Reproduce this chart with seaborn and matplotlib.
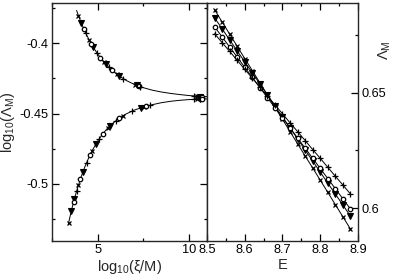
import numpy as np
import seaborn as sns
import matplotlib
matplotlib.use("Agg")
import matplotlib.pyplot as plt
from matplotlib.ticker import MultipleLocator

# Left panel: scaling curves (upper and lower branch)
upper_fit_x = [3.85, 3.90, 4.00, 4.20, 4.40, 4.60, 4.80, 5.00, 5.25, 5.50, 5.75, 6.00,
               6.30, 6.60, 7.00, 7.50, 8.00, 8.50, 9.00, 9.50, 10.0, 10.5, 11.0]
upper_fit_y = [-0.3768, -0.3787, -0.3822, -0.3886, -0.3942, -0.3992, -0.4037, -0.4076,
               -0.4119, -0.4156, -0.4188, -0.4215, -0.4243, -0.4267, -0.4292, -0.4316,
               -0.4334, -0.4347, -0.4357, -0.4365, -0.4372, -0.4377, -0.4380]
lower_fit_x = [3.40, 3.50, 3.60, 3.75, 3.90, 4.10, 4.30, 4.50, 4.75, 5.00, 5.25, 5.50,
               5.80, 6.10, 6.50, 7.00, 7.50, 8.00, 8.50, 9.00, 9.50, 10.0, 10.5, 11.0]
lower_fit_y = [-0.5283, -0.5225, -0.5170, -0.5096, -0.5029, -0.4949, -0.4879, -0.4818,
               -0.4752, -0.4697, -0.4650, -0.4611, -0.4573, -0.4541, -0.4507, -0.4476,
               -0.4454, -0.4437, -0.4423, -0.4413, -0.4406, -0.4401, -0.4398, -0.4396]

# scaled data points, one list per system size
xi_x = [3.95, 4.55, 5.35, 6.05, 7.05, 10.45, 3.41, 3.95, 4.70, 5.55, 6.40, 7.55, 10.45]
lam_x = [-0.3805, -0.3980, -0.4133, -0.4220, -0.4295, -0.4378,
         -0.5277, -0.5010, -0.4765, -0.4604, -0.4515, -0.4452, -0.4397]
xi_v = [4.10, 4.75, 5.45, 6.20, 7.15, 10.60, 3.55, 3.72, 4.20, 4.90, 5.70, 7.40, 10.60]
lam_v = [-0.3855, -0.4026, -0.4150, -0.4234, -0.4300, -0.4380,
         -0.5195, -0.5110, -0.4913, -0.4718, -0.4585, -0.4458, -0.4396]
xi_o = [4.25, 4.65, 5.15, 5.80, 7.25, 10.75, 3.68, 4.05, 4.60, 5.30, 6.20, 7.65, 10.75]
lam_o = [-0.3900, -0.4004, -0.4102, -0.4193, -0.4305, -0.4381,
         -0.5128, -0.4968, -0.4793, -0.4643, -0.4532, -0.4449, -0.4395]
xi_p = [4.35, 4.95, 5.60, 6.40, 7.35, 10.30, 3.85, 4.40, 5.10, 6.00, 6.90, 7.85, 10.30]
lam_p = [-0.3928, -0.4067, -0.4169, -0.4252, -0.4309, -0.4376,
         -0.5052, -0.4848, -0.4678, -0.4551, -0.4482, -0.4442, -0.4399]

# Right panel: Lambda_M vs energy
energy = [8.52, 8.54, 8.56, 8.58, 8.60, 8.62, 8.64, 8.66, 8.68, 8.70,
          8.72, 8.74, 8.76, 8.78, 8.80, 8.82, 8.84, 8.86, 8.88]
lam_E_x = [0.6861, 0.6808, 0.6755, 0.6702, 0.6649, 0.6597, 0.6544, 0.6491, 0.6438, 0.6385,
           0.6332, 0.6279, 0.6226, 0.6174, 0.6121, 0.6068, 0.6015, 0.5962, 0.5909]
lam_E_v = [0.6826, 0.6778, 0.6730, 0.6682, 0.6635, 0.6587, 0.6539, 0.6491, 0.6443, 0.6395,
           0.6348, 0.6300, 0.6252, 0.6204, 0.6156, 0.6108, 0.6061, 0.6013, 0.5965]
lam_E_o = [0.6787, 0.6743, 0.6699, 0.6655, 0.6611, 0.6567, 0.6523, 0.6479, 0.6435, 0.6392,
           0.6348, 0.6304, 0.6260, 0.6216, 0.6172, 0.6128, 0.6084, 0.6040, 0.5996]
lam_E_p = [0.6757, 0.6718, 0.6680, 0.6641, 0.6602, 0.6564, 0.6525, 0.6486, 0.6448, 0.6409,
           0.6370, 0.6332, 0.6293, 0.6254, 0.6216, 0.6177, 0.6138, 0.6100, 0.6061]

sns.set_style("ticks")
plt.rcParams["font.family"] = ["Liberation Sans", "DejaVu Sans"]
plt.rcParams["mathtext.fontset"] = "custom"
plt.rcParams["mathtext.rm"] = "Liberation Sans"
plt.rcParams["mathtext.it"] = "Liberation Sans:italic"

LABEL_SIZE = 10.5
TICK_SIZE = 9.2

styles = {
    "x": dict(marker="x", ms=3.0, mfc="k", mec="k", mew=0.9),
    "v": dict(marker="v", ms=3.8, mfc="k", mec="k", mew=0.8),
    "o": dict(marker="o", ms=3.2, mfc="white", mec="k", mew=0.9),
    "+": dict(marker="+", ms=3.8, mfc="k", mec="k", mew=0.9),
}

fig = plt.figure(figsize=(3.95, 2.75), dpi=100)
ax1 = fig.add_axes([52 / 395, 34 / 275, 155 / 395, 238 / 275])
ax2 = fig.add_axes([207 / 395, 34 / 275, 151 / 395, 238 / 275])

# left panel
sns.lineplot(x=upper_fit_x, y=upper_fit_y, ax=ax1, color="k", lw=0.7)
sns.lineplot(x=lower_fit_x, y=lower_fit_y, ax=ax1, color="k", lw=0.7)
for key, xs, ys in [("x", xi_x, lam_x), ("v", xi_v, lam_v), ("o", xi_o, lam_o), ("+", xi_p, lam_p)]:
    ax1.plot(xs, ys, ls="none", **styles[key])

ax1.set_xlim(2.5, 11)
ax1.set_ylim(-0.5405, -0.3715)
ax1.xaxis.set_major_locator(MultipleLocator(5))
ax1.xaxis.set_minor_locator(MultipleLocator(2.5))
ax1.yaxis.set_major_locator(MultipleLocator(0.05))
ax1.yaxis.set_minor_locator(MultipleLocator(0.025))
ax1.set_xticks([5, 10])
ax1.set_xticklabels(["5", "10"])
ax1.set_yticks([-0.5, -0.45, -0.4])
ax1.set_yticklabels(["-0.5", "-0.45", "-0.4"])
ax1.set_xlabel("log$_{10}$(ξ/M)", fontsize=LABEL_SIZE, labelpad=1)
ax1.set_ylabel("log$_{10}$($\\Lambda_\\mathrm{M}$)", fontsize=LABEL_SIZE)
ax1.yaxis.set_label_coords(-0.225, 0.5)

# right panel
for key, ys in [("x", lam_E_x), ("v", lam_E_v), ("o", lam_E_o), ("+", lam_E_p)]:
    sns.lineplot(x=energy, y=ys, ax=ax2, color="k", lw=0.7, **styles[key])

ax2.set_xlim(8.5, 8.9)
ax2.set_ylim(0.5857, 0.689)
ax2.xaxis.set_major_locator(MultipleLocator(0.1))
ax2.xaxis.set_minor_locator(MultipleLocator(0.05))
ax2.yaxis.set_major_locator(MultipleLocator(0.05))
ax2.yaxis.set_minor_locator(MultipleLocator(0.025))
ax2.set_xticks([8.5, 8.6, 8.7, 8.8, 8.9])
ax2.set_xticklabels(["8.5", "8.6", "8.7", "8.8", "8.9"])
ax2.set_yticks([0.6, 0.65])
ax2.set_yticklabels(["0.6", "0.65"])
ax2.set_xlabel("E", fontsize=LABEL_SIZE, labelpad=1)
ax2.yaxis.set_label_position("right")
ax2.set_ylabel("Λ$_\\mathrm{M}$", fontsize=LABEL_SIZE, rotation=90)
ax2.yaxis.set_label_coords(1.12, 0.80)

for ax in (ax1, ax2):
    for sp in ax.spines.values():
        sp.set_linewidth(1.0)
        sp.set_visible(True)
    ax.tick_params(which="both", direction="in", top=True, right=True, width=0.9,
                   labelsize=TICK_SIZE, pad=2.5, colors="k")
    ax.tick_params(which="major", length=5)
    ax.tick_params(which="minor", length=2.5)

ax2.tick_params(which="both", left=False, labelleft=False, labelright=True)

fig.savefig("out.png", dpi=100)
